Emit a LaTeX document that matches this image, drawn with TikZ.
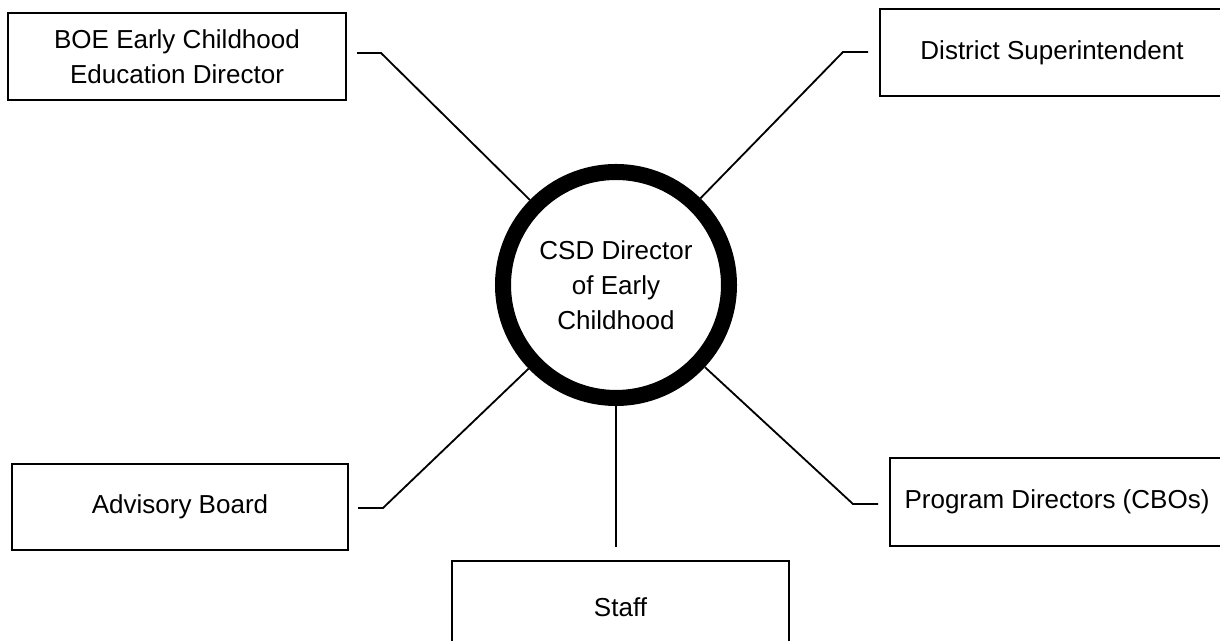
\documentclass[tikz,border=0pt]{standalone}
\usepackage{fontspec}
\setmainfont{Liberation Sans}
\begin{document}
\begin{tikzpicture}[
    rolebox/.style={draw, line width=1.3pt, minimum height=2.175cm, align=center, inner sep=0pt,
      font=\fontsize{18.5}{24.9}\selectfont},
    link/.style={line width=1.3pt},
  ]
    % Page frame
    \useasboundingbox (0,0) rectangle (30.5,16.025);
    \clip (0,0) rectangle (30.5,16.025);

    % Central director
    \node[circle, draw, line width=11.4pt, minimum size=5.65cm, align=center,
      font=\fontsize{18.5}{24.9}\selectfont] (csd) at (15.4,8.9) {CSD Director\\of Early\\Childhood};

    % Surrounding roles
    \node[rolebox, minimum width=8.45cm] (boe) at (4.425,14.6125) {BOE Early Childhood\\Education Director};
    \node[rolebox, minimum width=8.6cm] (dist) at (26.3,14.7125) {District Superintendent};
    \node[rolebox, minimum width=8.4cm, minimum height=2.15cm] (adv) at (4.5,3.35) {Advisory Board};
    \node[rolebox, minimum width=8.35cm, minimum height=2.2cm] (prog) at (26.425,3.475) {Program Directors (CBOs)};
    \node[rolebox, minimum width=8.425cm, minimum height=2.3cm] (staff) at (15.5125,0.85) {Staff};

    % Elbow points beside the boxes
    \coordinate (boeA) at (8.925,14.7);
    \coordinate (boeB) at (9.525,14.7);
    \coordinate (distA) at (21.7,14.725);
    \coordinate (distB) at (21.075,14.725);
    \coordinate (advA) at (8.95,3.325);
    \coordinate (advB) at (9.575,3.325);
    \coordinate (progA) at (21.95,3.425);
    \coordinate (progB) at (21.325,3.425);
    \coordinate (staffA) at (15.4,2.35);

    % Connectors
    \draw[link] (boeA) -- (boeB) -- (csd);
    \draw[link] (distA) -- (distB) -- (csd);
    \draw[link] (advA) -- (advB) -- (csd);
    \draw[link] (progA) -- (progB) -- (csd);
    \draw[link] (staffA) -- (csd);
\end{tikzpicture}
\end{document}
